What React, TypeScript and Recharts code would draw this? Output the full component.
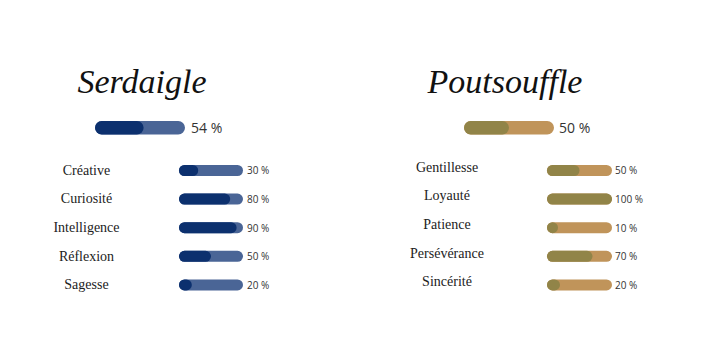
import React from 'react';
import { BarChart, Bar, XAxis, YAxis } from 'recharts';

// house titles and overall scores
const houseNames = ['Serdaigle', 'Poutsouffle'];
const houseScores = [54, 50];

// traits per house
const serdaigleTraits = ['Créative', 'Curiosité', 'Intelligence', 'Réflexion', 'Sagesse'];
const serdaigleValues = [30, 80, 90, 50, 20];
const poutsouffleTraits = ['Gentillesse', 'Loyauté', 'Patience', 'Persévérance', 'Sincérité'];
const poutsouffleValues = [50, 100, 10, 70, 20];

const palettes = [
  { dark: '#0c306e', light: '#4a6596' },
  { dark: '#918448', light: '#c0945a' },
];

const labelFont = '"Liberation Serif", serif';
const numFont = '"Open Sans", sans-serif';

type Layout = {
  titleX: number;
  mainLeft: number;
  mainWidth: number;
  mainLabelGap: number;
  rowsLeft: number;
  rowsAxisWidth: number;
  rowsPlotWidth: number;
  rowsLabelCenter: number;
  rowsLabelDy: number;
  rowsPctGap: number;
};

const layouts: Layout[] = [
  { titleX: 142, mainLeft: 95, mainWidth: 90, mainLabelGap: 6, rowsLeft: 40, rowsAxisWidth: 139, rowsPlotWidth: 64, rowsLabelCenter: 46.5, rowsLabelDy: 0, rowsPctGap: 4 },
  { titleX: 505, mainLeft: 464, mainWidth: 90, mainLabelGap: 5, rowsLeft: 400, rowsAxisWidth: 147, rowsPlotWidth: 65, rowsLabelCenter: 47, rowsLabelDy: -3, rowsPctGap: 3 },
];

// pill-shaped fill: never narrower than a full circle, like the round caps in the original
const PillBar = (props: any) => {
  const { x, y, width, height, fill } = props;
  if (width == null || height == null) return null;
  const w = Math.max(width, height);
  return <rect x={x} y={y} width={w} height={height} rx={height / 2} ry={height / 2} fill={fill} />;
};

const HouseBlock = ({ index, traits, values }: { index: number; traits: string[]; values: number[] }) => {
  const pal = palettes[index];
  const lay = layouts[index];
  const mainData = [{ name: houseNames[index], value: houseScores[index] }];
  const rows = traits.map((t, i) => ({ name: t, value: values[i] }));
  const rowsHeight = 143;
  const rowsWidth = lay.rowsAxisWidth + lay.rowsPlotWidth + 45;

  return (
    <>
      <div
        style={{
          position: 'absolute',
          left: lay.titleX - 100,
          top: 60,
          width: 200,
          textAlign: 'center',
          fontFamily: labelFont,
          fontStyle: 'italic',
          fontSize: 34,
          color: '#111',
          lineHeight: '44px',
        }}
      >
        {houseNames[index]}
      </div>

      <div style={{ position: 'absolute', left: lay.mainLeft, top: 110 }}>
        <BarChart
          width={lay.mainWidth + 50}
          height={35}
          data={mainData}
          layout="vertical"
          margin={{ top: 10, right: 0, bottom: 10, left: 0 }}
        >
          <XAxis type="number" domain={[0, 100]} hide />
          <YAxis type="category" dataKey="name" width={0} axisLine={false} tickLine={false} tick={false} />
          <YAxis
            yAxisId="pct"
            orientation="right"
            type="category"
            dataKey="name"
            width={50}
            interval={0}
            axisLine={false}
            tickLine={false}
            tick={(p: any) => (
              <text
                x={lay.mainWidth + lay.mainLabelGap}
                y={p.y}
                dominantBaseline="central"
                fontFamily={numFont}
                fontSize={14}
                fill="#333"
              >
                {`${mainData[p.payload.index].value} %`}
              </text>
            )}
          />
          <Bar
            dataKey="value"
            fill={pal.dark}
            barSize={15}
            shape={PillBar}
            background={{ fill: pal.light, radius: 7.5 } as any}
            isAnimationActive={false}
          />
        </BarChart>
      </div>

      <div style={{ position: 'absolute', left: lay.rowsLeft, top: 156 }}>
        <BarChart
          width={rowsWidth}
          height={rowsHeight}
          data={rows}
          layout="vertical"
          margin={{ top: 0, right: 0, bottom: 0, left: 0 }}
        >
          <XAxis type="number" domain={[0, 100]} hide />
          <YAxis
            type="category"
            dataKey="name"
            width={lay.rowsAxisWidth}
            interval={0}
            axisLine={false}
            tickLine={false}
            tick={(p: any) => (
              <text
                x={lay.rowsLabelCenter}
                y={p.y + lay.rowsLabelDy}
                textAnchor="middle"
                dominantBaseline="central"
                fontFamily={labelFont}
                fontSize={14}
                fill="#222"
              >
                {p.payload.value}
              </text>
            )}
          />
          <YAxis
            yAxisId="pct"
            orientation="right"
            type="category"
            dataKey="name"
            width={45}
            interval={0}
            axisLine={false}
            tickLine={false}
            tick={(p: any) => (
              <text
                x={lay.rowsAxisWidth + lay.rowsPlotWidth + lay.rowsPctGap}
                y={p.y}
                dominantBaseline="central"
                fontFamily={numFont}
                fontSize={10}
                fill="#333"
              >
                {`${rows[p.payload.index].value} %`}
              </text>
            )}
          />
          <Bar
            dataKey="value"
            fill={pal.dark}
            barSize={11}
            shape={PillBar}
            background={{ fill: pal.light, radius: 5.5 } as any}
            isAnimationActive={false}
          />
        </BarChart>
      </div>
    </>
  );
};

const App = () => {
  return (
    <div style={{ position: 'absolute', left: 0, top: 0, width: 707, height: 353, background: '#fff', overflow: 'hidden' }}>
      <HouseBlock index={0} traits={serdaigleTraits} values={serdaigleValues} />
      <HouseBlock index={1} traits={poutsouffleTraits} values={poutsouffleValues} />
    </div>
  );
};

export default App;
